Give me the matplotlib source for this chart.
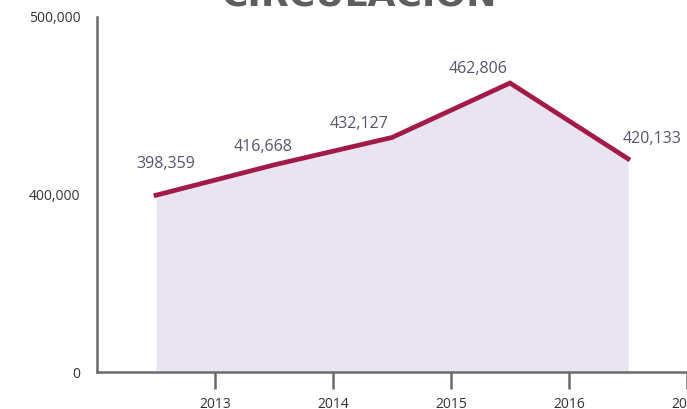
import numpy as np
import matplotlib
matplotlib.use("Agg")
import matplotlib.pyplot as plt

# ---- data ----
years = [2012.5, 2013.5, 2014.5, 2015.5, 2016.5]
values = [398359, 416668, 432127, 462806, 420133]
xticks = [2013, 2014, 2015, 2016, 2017]
yticks = [0, 400000, 500000]
ytick_labels = ["0", "400,000", "500,000"]
title = "CIRCULACIÓN"

# label offsets in pixels (dx, dy)
label_offsets = [(13, 31), (-8, 18), (-30, 13), (-29, 14), (27, 20)]

plt.rcParams['font.family'] = ['Open Sans', 'DejaVu Sans']

fig = plt.figure(figsize=(6.87, 4.09), dpi=100)
ax = fig.add_axes([97/687, 1-372/409, 1-97/687, (372-17)/409])

# piecewise scale: 0-400k -> 0-1, 400k-500k -> 1-2
nodes_v = np.array([0, 400000, 500000, 10_000_000])
nodes_s = np.array([0, 1.0, 2.0, 2.0 + 9_500_000/100000])
def fwd(y):
    return np.interp(y, nodes_v, nodes_s)
def inv(s):
    return np.interp(s, nodes_s, nodes_v)
ax.set_yscale('function', functions=(fwd, inv))
ax.set_ylim(0, 500000)
ax.set_xlim(2012, 2017)

line_color = '#a31a47'
fill_color = '#e8e4f2'
ax.fill_between(years, values, 0, color=fill_color, lw=0, zorder=1)
ax.plot(years, values, color=line_color, lw=3.4, solid_joinstyle='miter', zorder=3)

for x, v, (dx, dy) in zip(years, values, label_offsets):
    ax.annotate(f"{v:,}", (x, v), xytext=(dx * 0.72 - 2, dy * 0.72), textcoords='offset points',
                ha='center', va='center', fontsize=11.5, color='#55556e')

ax.set_yticks(yticks)
ax.set_yticklabels(ytick_labels)
ax.set_xticks(xticks)
ax.set_xticklabels([str(t) for t in xticks])
ax.yaxis.set_minor_locator(matplotlib.ticker.NullLocator())

spine_color = '#6a6a6a'
for s in ['top', 'right']:
    ax.spines[s].set_visible(False)
for s in ['left', 'bottom']:
    ax.spines[s].set_color(spine_color)
    ax.spines[s].set_linewidth(1.8)

ax.tick_params(axis='y', length=0, pad=12, labelsize=10, labelcolor='#333333')
ax.tick_params(axis='x', length=12, width=1.8, color=spine_color, pad=6,
               labelsize=10, labelcolor='#333333')

fig.text(359/687, 1 - 6/409, title, ha='center', va='baseline', fontsize=26,
         fontweight='heavy', color='#5e5e5e', family=['DejaVu Sans'])

fig.savefig('out.png', dpi=100)
